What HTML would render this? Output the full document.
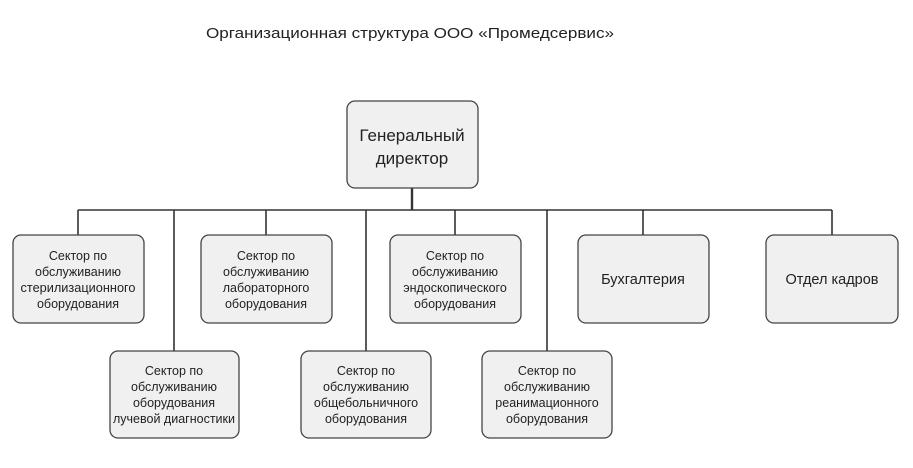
<!DOCTYPE html>
<html><head><meta charset="utf-8"><style>
html,body{margin:0;padding:0;background:#fff;}
svg{display:block;}
text{font-family:"Liberation Sans","Noto Sans CJK SC",sans-serif;fill:#222;text-anchor:middle;}
.s{font-size:12.5px;}
rect{fill:#f0f0f0;stroke:#444;stroke-width:1.3;}
line{stroke:#333;stroke-width:1.6;}
</style></head><body>
<svg width="913" height="468" viewBox="0 0 913 468">
<text x="410" y="38" style="font-size:15px" textLength="408" lengthAdjust="spacingAndGlyphs">Организационная структура ООО «Промедсервис»</text>
<line x1="412" y1="188" x2="412" y2="210" style="stroke-width:2.4"/>
<line x1="78" y1="210" x2="832" y2="210"/>
<line x1="78" y1="210" x2="78" y2="235"/>
<line x1="266" y1="210" x2="266" y2="235"/>
<line x1="455" y1="210" x2="455" y2="235"/>
<line x1="643" y1="210" x2="643" y2="235"/>
<line x1="832" y1="210" x2="832" y2="235"/>
<line x1="174" y1="210" x2="174" y2="351"/>
<line x1="366" y1="210" x2="366" y2="351"/>
<line x1="547" y1="210" x2="547" y2="351"/>
<rect x="347" y="101" width="131" height="87" rx="8"/>
<text x="412" y="141" style="font-size:17px">Генеральный</text>
<text x="412" y="164" style="font-size:17px">директор</text>
<rect x="13" y="235" width="131" height="88" rx="8"/>
<rect x="201" y="235" width="131" height="88" rx="8"/>
<rect x="390" y="235" width="131" height="88" rx="8"/>
<rect x="578" y="235" width="131" height="88" rx="8"/>
<rect x="766" y="235" width="132" height="88" rx="8"/>
<rect x="110" y="351" width="129" height="87" rx="8"/>
<rect x="301" y="351" width="130" height="87" rx="8"/>
<rect x="482" y="351" width="130" height="87" rx="8"/>
<g class="s">
<text x="78" y="260">Сектор по</text><text x="78" y="276">обслуживанию</text><text x="78" y="292" textLength="115" lengthAdjust="spacingAndGlyphs">стерилизационного</text><text x="78" y="308">оборудования</text>
<text x="266" y="260">Сектор по</text><text x="266" y="276">обслуживанию</text><text x="266" y="292">лабораторного</text><text x="266" y="308">оборудования</text>
<text x="455" y="260">Сектор по</text><text x="455" y="276">обслуживанию</text><text x="455" y="292">эндоскопического</text><text x="455" y="308">оборудования</text>
<text x="174" y="375">Сектор по</text><text x="174" y="391">обслуживанию</text><text x="174" y="407">оборудования</text><text x="174" y="423" textLength="122" lengthAdjust="spacingAndGlyphs">лучевой диагностики</text>
<text x="366" y="375">Сектор по</text><text x="366" y="391">обслуживанию</text><text x="366" y="407">общебольничного</text><text x="366" y="423">оборудования</text>
<text x="547" y="375">Сектор по</text><text x="547" y="391">обслуживанию</text><text x="547" y="407">реанимационного</text><text x="547" y="423">оборудования</text>
</g>
<text x="643" y="284" style="font-size:14.5px">Бухгалтерия</text>
<text x="832" y="284" style="font-size:14.5px">Отдел кадров</text>
</svg>
</body></html>
